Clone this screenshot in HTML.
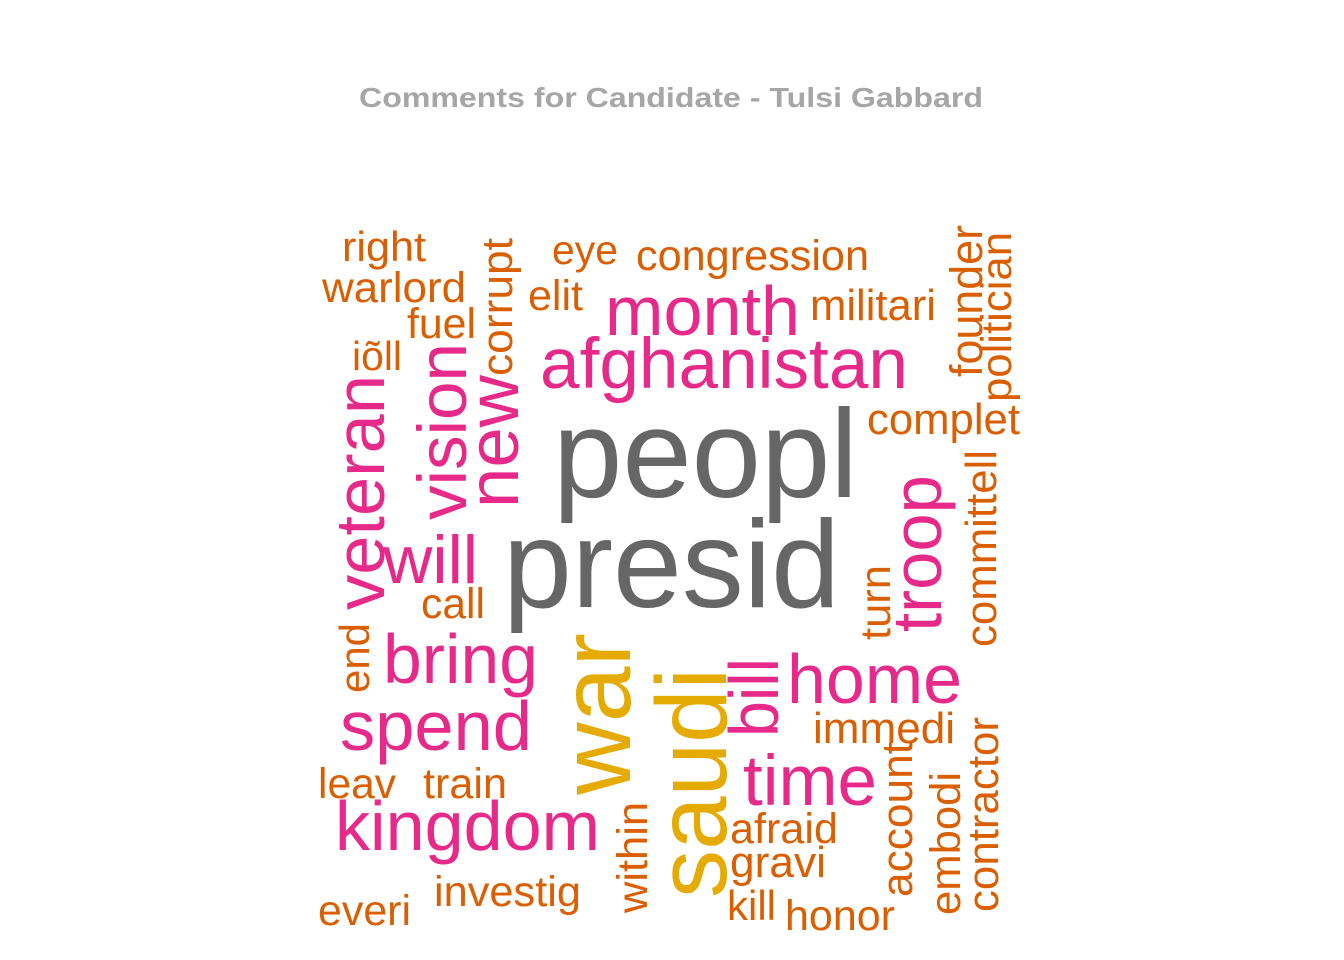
<!DOCTYPE html>
<html><head><meta charset="utf-8"><style>
html,body{margin:0;padding:0;background:#fff;width:1344px;height:960px;overflow:hidden}
svg text{font-family:"Liberation Sans",Arial,sans-serif}
</style></head><body>
<svg id="chart" width="1344" height="960" viewBox="0 0 1344 960">
<text x="671" y="107" text-anchor="middle" font-size="28" font-weight="bold" fill="#a6a6a6" textLength="624" lengthAdjust="spacingAndGlyphs">Comments for Candidate - Tulsi Gabbard</text>
<g id="words"></g>
</svg>
<script>
// word list, font sizes (frequency weight), colour group (0 gray,1 pink,2 gold,3 orange)
const words = ["peopl","presid","war","saudi","month","afghanistan","will","bring","spend","kingdom","home","time","veteran","vision","new","bill","troop",
"right","warlord","fuel","iõll","eye","elit","congression","militari","complet","call","leav","train","investig","everi","immedi","afraid","gravi","kill","honor",
"corrupt","end","within","account","embodi","contractor","turn","committell","founder","politician"];
const sizes = [125,124,100,100,70,71,68,70,70,70,70,71,70,69,72,70,70,
42,43,43,41,41,43,43,44,44,43,43,43,43,43,44,43,44,42,43,
44,42,43,44,43,44,43,44,45,43];
const groups = [0,0,2,2,1,1,1,1,1,1,1,1,1,1,1,1,1,
3,3,3,3,3,3,3,3,3,3,3,3,3,3,3,3,3,3,3,
3,3,3,3,3,3,3,3,3,3];
const palette = ["#666666","#e7298a","#e6ab02","#d95f02"];
// layout: [x, baseline y, extent, rotated]
const layout = [[553,497,305,0],[503,607,337,0],[630,795,162,1],[726,898,230,1],[605,335,195,0],[540,388,368,0],[383,583,95,0],[383,683,155,0],[340,750,192,0],[335,850,265,0],[787,703,175,0],[743,805,134,0],[384,610,235,1],[466,520,177,1],[518,508,133,1],[778,737,79,1],[941,632,157,1],
[342,261,84,0],[322,302,144,0],[407,338,69,0],[352,370,50,0],[552,264,66,0],[528,310,55,0],[636,270,233,0],[810,320,126,0],[867,434,153,0],[421,618,64,0],[318,798,78,0],[423,798,84,0],[434,906,147,0],[318,925,93,0],[813,743,142,0],[730,843,108,0],[730,877,96,0],[727,920,49,0],[785,930,110,0],
[512,376,138,1],[369,693,70,1],[647,913,111,1],[912,897,155,1],[960,915,143,1],[998,912,195,1],[890,640,75,1],[996,647,197,1],[982,377,152,1],[1011,402,170,1]];
const g = document.getElementById('words');
const NS = "http://www.w3.org/2000/svg";
words.forEach((w,i)=>{
  const [x,y,len,rot] = layout[i];
  const t = document.createElementNS(NS,'text');
  
  
  t.setAttribute('font-size', sizes[i]);
  t.setAttribute('fill', palette[groups[i]]);
  t.setAttribute('textLength', len);
  t.setAttribute('lengthAdjust', 'spacingAndGlyphs');
  if(rot){
    t.setAttribute('x',0);t.setAttribute('y',0);
    t.setAttribute('transform','translate('+x+','+y+') rotate(-90)');
  } else {
    t.setAttribute('x',x);t.setAttribute('y',y);
  }
  t.textContent = w;
  g.appendChild(t);
});
</script>
</body></html>
